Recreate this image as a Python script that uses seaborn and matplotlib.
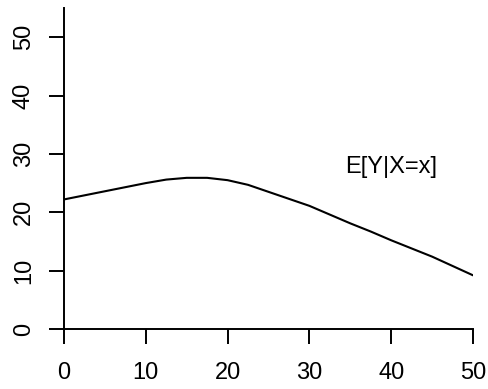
import matplotlib
matplotlib.use("Agg")
import matplotlib.pyplot as plt
import seaborn as sns
import pandas as pd

x_vals = [0, 2.5, 5, 7.5, 10, 12.5, 15, 17.5, 20, 22.5, 25, 27.5, 30,
          32.5, 35, 37.5, 40, 42.5, 45, 47.5, 50]
y_vals = [22.2, 22.9, 23.6, 24.3, 25.0, 25.6, 25.9, 25.9, 25.5, 24.7, 23.5,
          22.3, 21.1, 19.6, 18.1, 16.7, 15.2, 13.8, 12.4, 10.8, 9.2]
x_ticks = [0, 10, 20, 30, 40, 50]
y_ticks = [0, 10, 20, 30, 40, 50]
label_text = "E[Y|X=x]"

sns.set_style("ticks")
plt.rcParams["font.family"] = ["Liberation Sans", "DejaVu Sans"]

df = pd.DataFrame({"x": x_vals, "y": y_vals})

fig = plt.figure(figsize=(4.88, 3.89), dpi=100)
ax = fig.add_axes([64 / 488, 1 - 329 / 389, (473 - 64) / 488, (329 - 8) / 389])

sns.lineplot(data=df, x="x", y="y", ax=ax, color="black", linewidth=1.5,
             estimator=None, sort=False)

ax.set_xlim(0, 50)
ax.set_ylim(0, 55)
ax.set_xticks(x_ticks)
ax.set_yticks(y_ticks)
ax.set_xlabel("")
ax.set_ylabel("")

for s in ["top", "right"]:
    ax.spines[s].set_visible(False)
for s in ["left", "bottom"]:
    ax.spines[s].set_linewidth(1.4)
    ax.spines[s].set_color("black")

ax.tick_params(axis="both", which="major", direction="out", length=11,
               width=1.4, colors="black", labelsize=17,
               bottom=True, left=True, top=False, right=False)
ax.tick_params(axis="x", pad=13)
ax.tick_params(axis="y", pad=10, labelrotation=90)
for lab in ax.get_yticklabels():
    lab.set_verticalalignment("center")

ax.text(40, 27.7, label_text, ha="center", va="center", fontsize=17, color="black")

fig.savefig("out.png", dpi=100)
